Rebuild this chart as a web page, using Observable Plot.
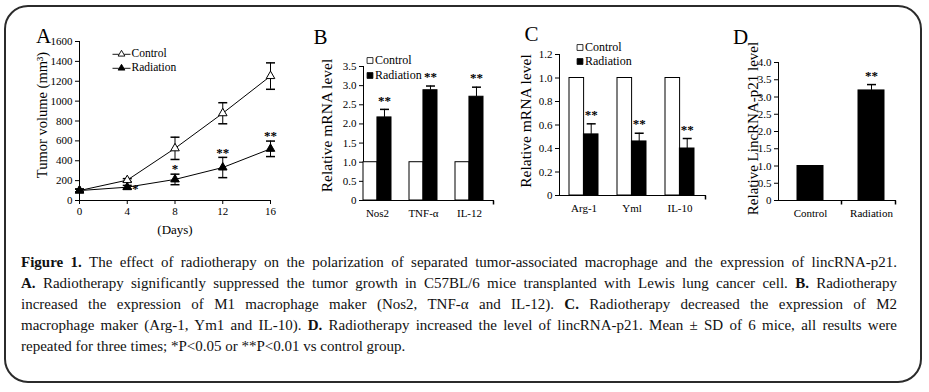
<!DOCTYPE html>
<html>
<head>
<meta charset="utf-8">
<script src="https://cdn.jsdelivr.net/npm/d3@7"></script>
<script src="https://cdn.jsdelivr.net/npm/@observablehq/plot@0.6"></script>
<style>
  html, body { margin: 0; padding: 0; background: #fff; }
  #page { position: relative; width: 929px; height: 392px; overflow: hidden; background: #fff; }
  #frame { position: absolute; left: 4px; top: 5px; width: 918px; height: 378px; border: 2px solid #2b2b2b; border-radius: 24px; box-sizing: border-box; }
  .panel { position: absolute; top: 0; }
  .panel svg { overflow: visible; }
  #caption { position: absolute; left: 21px; top: 252px; width: 876px; font-family: "Liberation Serif", serif; font-size: 15px; line-height: 21px; color: #111; }
  #caption .ln { white-space: nowrap; text-align: justify; text-align-last: justify; }
  #caption .ln.last { text-align: left; text-align-last: left; }
</style>
</head>
<body>
<div id="page">
  <div id="frame"></div>
  <div class="panel" id="pA" style="left:0px"></div>
  <div class="panel" id="pB" style="left:300px"></div>
  <div class="panel" id="pC" style="left:500px"></div>
  <div class="panel" id="pD" style="left:720px"></div>
  <div id="caption">
    <div class="ln"><b>Figure 1.</b> The effect of radiotherapy on the polarization of separated tumor-associated macrophage and the expression of lincRNA-p21.</div>
    <div class="ln"><b>A.</b> Radiotherapy significantly suppressed the tumor growth in C57BL/6 mice transplanted with Lewis lung cancer cell. <b>B.</b> Radiotherapy</div>
    <div class="ln">increased the expression of M1 macrophage maker (Nos2, TNF-α and IL-12). <b>C.</b> Radiotherapy decreased the expression of M2</div>
    <div class="ln">macrophage maker (Arg-1, Ym1 and IL-10). <b>D.</b> Radiotherapy increased the level of lincRNA-p21. Mean ± SD of 6 mice, all results were</div>
    <div class="ln last">repeated for three times; *P&lt;0.05 or **P&lt;0.01 vs control group.</div>
  </div>
</div>
<script>
// ---------- Panel A data (tumor volume) ----------
const daysA = [0, 4, 8, 12, 16];
const controlA = [100, 205, 525, 878, 1252];
const controlSdA = [15, 15, 112, 106, 133];
const radiationA = [100, 134, 212, 332, 520];
const radiationSdA = [15, 18, 53, 102, 78];
const starsA = ["", "*", "*", "**", "**"];
const yTicksA = [0, 200, 400, 600, 800, 1000, 1200, 1400, 1600];

// ---------- Panel B data (M1 markers) ----------
const catsB = ["Nos2", "TNF-α", "IL-12"];
const controlB = [1, 1, 1];
const radiationB = [2.17, 2.88, 2.71];
const radiationSdB = [0.21, 0.11, 0.25];
const starsB = ["**", "**", "**"];
const yTicksB = [0, 0.5, 1.0, 1.5, 2.0, 2.5, 3.0, 3.5];

// ---------- Panel C data (M2 markers) ----------
const catsC = ["Arg-1", "Yml", "IL-10"];
const controlC = [1, 1, 1];
const radiationC = [0.52, 0.46, 0.40];
const radiationSdC = [0.09, 0.07, 0.085];
const starsC = ["**", "**", "**"];
const yTicksC = [0, 0.2, 0.4, 0.6, 0.8, 1.0, 1.2];

// ---------- Panel D data (lincRNA-p21) ----------
const catsD = ["Control", "Radiation"];
const valuesD = [1.0, 3.19];
const sdD = [0, 0.17];
const starsD = ["", "**"];
const yTicksD = [0, 0.5, 1.0, 1.5, 2.0, 2.5, 3.0, 3.5, 4.0];

const seriesNames = ["Control", "Radiation"];
const FONT = "Liberation Serif";

const tableA = daysA.map((d, i) => ({day: d, c: controlA[i], cs: controlSdA[i], r: radiationA[i], rs: radiationSdA[i], star: starsA[i]}));
const makeBars = (cats, ctrl, rad, sd, stars) => cats.map((k, i) => ({cat: k, c: ctrl[i], r: rad[i], s: sd[i], star: stars[i]}));
const tableB = makeBars(catsB, controlB, radiationB, radiationSdB, starsB);
const tableC = makeBars(catsC, controlC, radiationC, radiationSdC, starsC);
const tableD = catsD.map((k, i) => ({cat: k, v: valuesD[i], s: sdD[i], star: starsD[i]}));

// custom symbols
const capSym = {draw(ctx) { ctx.moveTo(-4.5, 0); ctx.lineTo(4.5, 0); }};
const vTickSym = {draw(ctx) { ctx.moveTo(0, 0); ctx.lineTo(0, 4); }};
const lineTriSym = {draw(ctx) {
  ctx.moveTo(-9, 0.8); ctx.lineTo(-2.6, 0.8);
  ctx.moveTo(2.6, 0.8); ctx.lineTo(9, 0.8);
  ctx.moveTo(0, -3.2); ctx.lineTo(3.4, 2.6); ctx.lineTo(-3.4, 2.6); ctx.closePath();
}};

const baseStyle = {fontFamily: FONT, fontSize: "11px", color: "#000", background: "none", overflow: "visible"};
const fmt1 = d => d === 0 ? "0" : d.toFixed(1);

function panelLetter(t, dx, dy) {
  return Plot.text([t], {x: null, y: null, text: d => d, frameAnchor: "top-left", dx, dy, fontSize: 21, textAnchor: "middle", lineAnchor: "middle", fill: "#000"});
}
function yLabel(t, dx, dy, size) {
  return Plot.text([t], {x: null, y: null, text: d => d, frameAnchor: "left", rotate: -90, dx, dy, fontSize: size, textAnchor: "middle", lineAnchor: "middle", fill: "#000"});
}
function legendBox(name, filled, dx, dy) {
  return [
    Plot.dot([name], {x: null, y: null, frameAnchor: "top-left", dx, dy, symbol: "square", r: 3.3, fill: filled ? "#000" : "#fff", stroke: "#000", strokeWidth: 0.8}),
    Plot.text([name], {x: null, y: null, text: d => d, frameAnchor: "top-left", dx: dx + 5, dy, textAnchor: "start", lineAnchor: "middle", fontSize: 12, fill: "#000"})
  ];
}

// ---------- Panel A ----------
const plotA = Plot.plot({
  width: 290, height: 240,
  marginLeft: 79, marginRight: 20, marginTop: 41, marginBottom: 40,
  style: baseStyle,
  x: {domain: [0, 16], ticks: daysA, tickSize: 4, tickPadding: 3, line: true, label: null},
  y: {domain: [0, 1600], ticks: yTicksA, tickSize: 4, tickPadding: 3, line: true, label: null, tickFormat: d3.format("d")},
  marks: [
    Plot.ruleX(tableA, {x: "day", y1: d => d.c - d.cs, y2: d => d.c + d.cs, stroke: "#000", strokeWidth: 1}),
    Plot.dot(tableA, {x: "day", y: d => d.c + d.cs, symbol: capSym, stroke: "#000", fill: "none"}),
    Plot.dot(tableA, {x: "day", y: d => d.c - d.cs, symbol: capSym, stroke: "#000", fill: "none"}),
    Plot.ruleX(tableA, {x: "day", y1: d => d.r - d.rs, y2: d => d.r + d.rs, stroke: "#000", strokeWidth: 1}),
    Plot.dot(tableA, {x: "day", y: d => d.r + d.rs, symbol: capSym, stroke: "#000", fill: "none"}),
    Plot.dot(tableA, {x: "day", y: d => d.r - d.rs, symbol: capSym, stroke: "#000", fill: "none"}),
    Plot.line(tableA, {x: "day", y: "c", stroke: "#000", strokeWidth: 1}),
    Plot.line(tableA, {x: "day", y: "r", stroke: "#000", strokeWidth: 1}),
    Plot.dot(tableA, {x: "day", y: "c", symbol: "triangle", r: 3.2, fill: "#fff", stroke: "#000", strokeWidth: 1}),
    Plot.dot(tableA, {x: "day", y: "r", symbol: "triangle", r: 3.2, fill: "#000", stroke: "#000", strokeWidth: 1}),
    Plot.text(tableA.filter(d => d.day === 4), {x: "day", y: d => d.r + d.rs, text: "star", dx: 8, dy: 3, fontSize: 13, fontWeight: "bold", fill: "#000"}),
    Plot.text(tableA.filter(d => d.day > 4), {x: "day", y: d => d.r + d.rs, text: "star", dy: -5, fontSize: 13, fontWeight: "bold", fill: "#000"}),
    Plot.dot([seriesNames[0]], {x: null, y: null, frameAnchor: "top-left", dx: 42, dy: 12, symbol: lineTriSym, fill: "#fff", stroke: "#000", strokeWidth: 0.9}),
    Plot.text([seriesNames[0]], {x: null, y: null, text: d => d, frameAnchor: "top-left", dx: 52, dy: 12, textAnchor: "start", lineAnchor: "middle", fontSize: 11.5, fill: "#000"}),
    Plot.dot([seriesNames[1]], {x: null, y: null, frameAnchor: "top-left", dx: 42, dy: 26, symbol: lineTriSym, fill: "#000", stroke: "#000", strokeWidth: 0.9}),
    Plot.text([seriesNames[1]], {x: null, y: null, text: d => d, frameAnchor: "top-left", dx: 52, dy: 26, textAnchor: "start", lineAnchor: "middle", fontSize: 11.5, fill: "#000"}),
    Plot.text(["(Days)"], {x: null, y: null, text: d => d, frameAnchor: "bottom", dy: 29, fontSize: 13, lineAnchor: "middle", fill: "#000"}),
    yLabel("Tumor volume (mm³)", -37, -6, 14.5),
    panelLetter("A", -36, -5)
  ]
});
document.getElementById("pA").append(plotA);

// ---------- Bar panel factory ----------
function barPanel(opts) {
  const {table, width, height, mL, mR, mT, mB, range, pad, domain, yTicks, half} = opts;
  return Plot.plot({
    width, height, marginLeft: mL, marginRight: mR, marginTop: mT, marginBottom: mB,
    style: baseStyle,
    x: {domain: table.map(d => d.cat), range, paddingInner: pad, paddingOuter: 0, align: 0, tickSize: 0, tickPadding: 9, line: true, label: null},
    y: {domain, ticks: yTicks, tickSize: 4, tickPadding: 3, line: true, label: null, tickFormat: fmt1},
    marks: opts.marks(half)
  });
}

// ---------- Panel B ----------
const plotB = barPanel({
  table: tableB, width: 203, height: 240, mL: 63, mR: 10, mT: 66, mB: 40,
  range: [63, 184], pad: 0.4, domain: [0, 3.5], yTicks: yTicksB, half: 13.95,
  marks: (h) => [
    Plot.barY(tableB, {x: "cat", y: "c", insetRight: h, fill: "#fff", stroke: "#000", strokeWidth: 1}),
    Plot.barY(tableB, {x: "cat", y: "r", insetLeft: h, fill: "#000", stroke: "#000", strokeWidth: 1}),
    Plot.ruleX(tableB, {x: "cat", y1: "r", y2: d => d.r + d.s, dx: h / 2, stroke: "#000", strokeWidth: 1}),
    Plot.dot(tableB, {x: "cat", y: d => d.r + d.s, dx: h / 2, symbol: capSym, stroke: "#000", fill: "none"}),
    Plot.text(tableB, {x: "cat", y: d => d.r + d.s, text: "star", dx: h / 2, dy: -9, fontSize: 13, fontWeight: "bold", fill: "#000"}),
    Plot.dot([0], {x: null, y: null, frameAnchor: "bottom-right", symbol: vTickSym, stroke: "#000", fill: "none"}),
    ...legendBox(seriesNames[0], false, 6.5, -6),
    ...legendBox(seriesNames[1], true, 6.5, 9),
    yLabel("Relative mRNA level", -36, -8, 15.5),
    panelLetter("B", -43, -29)
  ]
});
document.getElementById("pB").append(plotB);

// ---------- Panel C ----------
const plotC = barPanel({
  table: tableC, width: 215, height: 235, mL: 59, mR: 10, mT: 54, mB: 40,
  range: [69, 195], pad: 0.405, domain: [0, 1.2], yTicks: yTicksC, half: 14.4,
  marks: (h) => [
    Plot.barY(tableC, {x: "cat", y: "c", insetRight: h, fill: "#fff", stroke: "#000", strokeWidth: 1}),
    Plot.barY(tableC, {x: "cat", y: "r", insetLeft: h, fill: "#000", stroke: "#000", strokeWidth: 1}),
    Plot.ruleX(tableC, {x: "cat", y1: "r", y2: d => d.r + d.s, dx: h / 2, stroke: "#000", strokeWidth: 1}),
    Plot.dot(tableC, {x: "cat", y: d => d.r + d.s, dx: h / 2, symbol: capSym, stroke: "#000", fill: "none"}),
    Plot.text(tableC, {x: "cat", y: d => d.r + d.s, text: "star", dx: h / 2, dy: -9, fontSize: 13, fontWeight: "bold", fill: "#000"}),
    Plot.dot([0], {x: null, y: null, frameAnchor: "bottom-right", symbol: vTickSym, stroke: "#000", fill: "none"}),
    ...legendBox(seriesNames[0], false, 20.5, -7),
    ...legendBox(seriesNames[1], true, 20.5, 7),
    yLabel("Relative mRNA level", -33, -4, 15.5),
    panelLetter("C", -28, -20)
  ]
});
document.getElementById("pC").append(plotC);

// ---------- Panel D ----------
const plotD = Plot.plot({
  width: 185, height: 240, marginLeft: 58, marginRight: 10, marginTop: 62, marginBottom: 40,
  style: baseStyle,
  x: {domain: catsD, range: [77, 165], paddingInner: 0.58, paddingOuter: 0, align: 0, tickSize: 0, tickPadding: 9, line: true, label: null},
  y: {domain: [0, 4], ticks: yTicksD, tickSize: 4, tickPadding: 3, line: true, label: null, tickFormat: fmt1},
  marks: [
    Plot.barY(tableD, {x: "cat", y: "v", fill: "#000", stroke: "#000", strokeWidth: 1}),
    Plot.ruleX(tableD.filter(d => d.s > 0), {x: "cat", y1: "v", y2: d => d.v + d.s, stroke: "#000", strokeWidth: 1}),
    Plot.dot(tableD.filter(d => d.s > 0), {x: "cat", y: d => d.v + d.s, symbol: capSym, stroke: "#000", fill: "none"}),
    Plot.text(tableD, {x: "cat", y: d => d.v + d.s, text: "star", dy: -9, fontSize: 13, fontWeight: "bold", fill: "#000"}),
    Plot.dot([0], {x: null, y: null, frameAnchor: "bottom-right", symbol: vTickSym, stroke: "#000", fill: "none"}),
    Plot.dot([0], {x: null, y: null, frameAnchor: "bottom", dx: 4.5, symbol: vTickSym, stroke: "#000", fill: "none"}),
    yLabel("Relative LincRNA-p21 level", -25, -3, 15),
    panelLetter("D", -38, -25)
  ]
});
document.getElementById("pD").append(plotD);
</script>
</body>
</html>
